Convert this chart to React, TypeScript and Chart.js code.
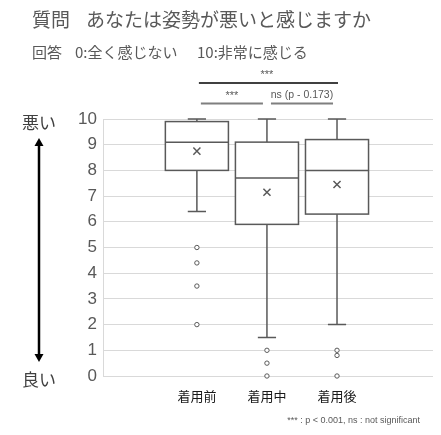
import { useEffect, useRef } from "react"
import { Chart, registerables } from "chart.js"

Chart.register(...registerables)

// box plot summary per group
const categories = ["着用前", "着用中", "着用後"]
const whiskerLow = [6.4, 1.5, 2.0]
const q1 = [8.0, 5.9, 6.3]
const medians = [9.1, 7.7, 8.0]
const q3 = [9.9, 9.1, 9.2]
const whiskerHigh = [10, 10, 10]
const means = [8.75, 7.15, 7.45]
const outliers = [
  [5.0, 4.4, 3.5, 2.0],
  [1.0, 0.5, 0],
  [1.0, 0.8, 0],
]

// significance brackets: group index pairs
const bracketFrom = [0, 0, 1]
const bracketTo = [2, 1, 2]
const bracketLabels = ["***", "***", "ns (p - 0.173)"]
const bracketLevels = [11.4, 10.6, 10.6]

const yMin = 0
const yMax = 10

const GRAY = "#595959"
const CJK = "'Noto Sans CJK JP'"
const LATIN = "'Liberation Sans'"

const boxPlotPlugin = {
  id: "boxPlot",
  beforeDatasetsDraw(chart: Chart) {
    const { ctx } = chart
    const x = chart.scales.x
    const y = chart.scales.y
    ctx.save()
    ctx.strokeStyle = GRAY
    ctx.lineWidth = 1.5
    categories.forEach((_, i) => {
      const xc = x.getPixelForValue(i + 1)
      const half = x.getPixelForValue(i + 1.45) - xc
      const cap = x.getPixelForValue(i + 1.13) - xc
      const top = y.getPixelForValue(q3[i])
      const bottom = y.getPixelForValue(q1[i])
      const hi = y.getPixelForValue(whiskerHigh[i])
      const lo = y.getPixelForValue(whiskerLow[i])
      const med = y.getPixelForValue(medians[i])

      // whiskers
      ctx.beginPath()
      ctx.moveTo(xc, top)
      ctx.lineTo(xc, hi)
      ctx.moveTo(xc - cap, hi)
      ctx.lineTo(xc + cap, hi)
      ctx.moveTo(xc, bottom)
      ctx.lineTo(xc, lo)
      ctx.moveTo(xc - cap, lo)
      ctx.lineTo(xc + cap, lo)
      ctx.stroke()

      // box
      ctx.fillStyle = "#ffffff"
      ctx.fillRect(xc - half, top, half * 2, bottom - top)
      ctx.strokeRect(xc - half, top, half * 2, bottom - top)

      // median
      ctx.beginPath()
      ctx.moveTo(xc - half, med)
      ctx.lineTo(xc + half, med)
      ctx.stroke()
    })
    ctx.restore()
  },
  afterDraw(chart: Chart) {
    const { ctx } = chart
    const x = chart.scales.x
    const y = chart.scales.y
    ctx.save()
    ctx.textBaseline = "middle"
    ctx.fillStyle = GRAY

    // titles
    ctx.textAlign = "left"
    ctx.font = `19px ${CJK}`
    ctx.fillText("質問", 32, 20)
    ctx.fillText("あなたは姿勢が悪いと感じますか", 86, 20)
    ctx.font = `15px ${CJK}`
    ctx.fillText("回答", 32, 52)
    ctx.fillText("0:全く感じない", 75, 52)
    ctx.fillText("10:非常に感じる", 197, 52)

    // side labels and arrow
    ctx.fillStyle = "#404040"
    ctx.font = `17px ${CJK}`
    ctx.fillText("悪い", 22, y.getPixelForValue(yMax) + 4)
    ctx.fillText("良い", 22, y.getPixelForValue(yMin) + 4)
    const ax = 39
    const aTop = y.getPixelForValue(9.26)
    const aBot = y.getPixelForValue(0.54)
    ctx.strokeStyle = "#000000"
    ctx.fillStyle = "#000000"
    ctx.lineWidth = 2.5
    ctx.beginPath()
    ctx.moveTo(ax, aTop + 6)
    ctx.lineTo(ax, aBot - 6)
    ctx.stroke()
    ctx.beginPath()
    ctx.moveTo(ax, aTop)
    ctx.lineTo(ax - 4.5, aTop + 8)
    ctx.lineTo(ax + 4.5, aTop + 8)
    ctx.closePath()
    ctx.fill()
    ctx.beginPath()
    ctx.moveTo(ax, aBot)
    ctx.lineTo(ax - 4.5, aBot - 8)
    ctx.lineTo(ax + 4.5, aBot - 8)
    ctx.closePath()
    ctx.fill()

    // significance brackets
    bracketFrom.forEach((from, k) => {
      const to = bracketTo[k]
      const x1 = x.getPixelForValue(from + 1)
      const x2 = x.getPixelForValue(to + 1)
      const yy = y.getPixelForValue(bracketLevels[k])
      const wide = to - from > 1
      ctx.beginPath()
      ctx.strokeStyle = wide ? "#000000" : "#7f7f7f"
      ctx.lineWidth = wide ? 1.5 : 2
      ctx.moveTo(x1 + (wide ? 2 : 4), yy)
      ctx.lineTo(x2 - (wide ? -1 : 4), yy)
      ctx.stroke()
      ctx.fillStyle = GRAY
      ctx.textAlign = "center"
      ctx.font = bracketLabels[k] === "***" ? `11px ${LATIN}` : `10.5px ${LATIN}`
      ctx.fillText(bracketLabels[k], (x1 + x2) / 2, yy - 8)
    })

    // footnote
    ctx.textAlign = "right"
    ctx.font = `9px ${LATIN}`
    ctx.fillStyle = GRAY
    ctx.fillText("*** : p < 0.001, ns : not significant", 420, 421)
    ctx.restore()
  },
}

export default function App() {
  const canvasRef = useRef<HTMLCanvasElement>(null)

  useEffect(() => {
    if (!canvasRef.current) return
    const chart = new Chart(canvasRef.current, {
      type: "scatter",
      data: {
        datasets: [
          {
            label: "mean",
            data: means.map((m, i) => ({ x: i + 1, y: m })),
            pointStyle: "crossRot",
            radius: 5,
            borderColor: GRAY,
            borderWidth: 1.5,
            backgroundColor: "transparent",
            clip: false,
          },
          {
            label: "outliers",
            data: outliers.flatMap((vals, i) => vals.map((v) => ({ x: i + 1, y: v }))),
            pointStyle: "circle",
            radius: 2.2,
            borderColor: GRAY,
            borderWidth: 1,
            backgroundColor: "#ffffff",
            clip: false,
          },
        ],
      },
      options: {
        responsive: false,
        animation: false,
        events: [],
        layout: { padding: { top: 119, right: 8, left: 0, bottom: 0 } },
        plugins: {
          legend: { display: false },
          tooltip: { enabled: false },
        },
        scales: {
          x: {
            type: "linear",
            min: -0.34,
            max: 4.37,
            afterBuildTicks: (scale: any) => {
              scale.ticks = categories.map((_, i) => ({ value: i + 1 }))
            },
            afterFit: (scale: any) => {
              scale.height = 59
            },
            grid: { display: false, drawTicks: false },
            border: { display: false },
            ticks: {
              padding: 12,
              color: "#1a1a1a",
              font: { family: "Noto Sans CJK JP", size: 13 },
              callback: (v: any) => categories[Number(v) - 1] ?? "",
            },
          },
          y: {
            min: yMin,
            max: yMax,
            afterFit: (scale: any) => {
              scale.width = 103
            },
            grid: { color: "#d9d9d9", lineWidth: 1, drawTicks: false },
            border: { color: "#d9d9d9" },
            ticks: {
              stepSize: 1,
              padding: 6,
              color: GRAY,
              font: { family: "Liberation Sans", size: 17 },
            },
          },
        },
      },
      plugins: [boxPlotPlugin],
    })
    return () => chart.destroy()
  }, [])

  return (
    <div style={{ position: "absolute", left: 0, top: 0, width: 441, height: 435, background: "#ffffff" }}>
      <canvas ref={canvasRef} width={441} height={435} style={{ width: 441, height: 435 }} />
    </div>
  )
}
